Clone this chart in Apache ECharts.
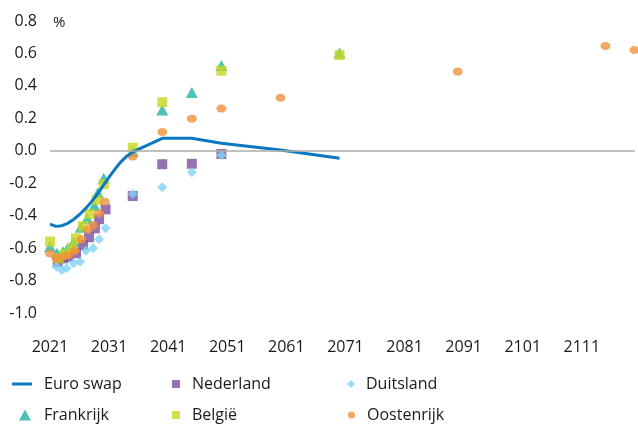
<!DOCTYPE html>
<html><head><meta charset="utf-8">
<script src="https://cdn.jsdelivr.net/npm/echarts@6/dist/echarts.min.js"></script>
<style>html,body{margin:0;padding:0;background:#fff}#c{width:638px;height:425px}</style>
</head><body><div id="c"></div>
<script>
// ---- data ----
const swapYears  = [2021,2022,2023,2024,2025,2026,2027,2028,2029,2030,2031,2032,2033,2034,2035,2040,2045,2050,2060,2070];
const swapValues = [-0.452,-0.466,-0.462,-0.447,-0.423,-0.393,-0.357,-0.315,-0.268,-0.215,-0.163,-0.113,-0.068,-0.033,-0.007,0.077,0.077,0.046,0.005,-0.046];

const nlYears  = [2022.3,2023.2,2024.1,2025.4,2026.6,2027.6,2028.6,2029.3,2030.4,2035,2040,2045,2050];
const nlValues = [-0.686,-0.663,-0.653,-0.632,-0.581,-0.533,-0.478,-0.422,-0.361,-0.279,-0.083,-0.08,-0.02];

const deYears  = [2022.1,2023.0,2023.8,2025.0,2026.1,2027.1,2028.3,2029.3,2030.4,2035,2040,2045,2050];
const deValues = [-0.715,-0.735,-0.724,-0.694,-0.684,-0.616,-0.601,-0.546,-0.478,-0.266,-0.225,-0.133,-0.028];

const frYears  = [2021,2022.2,2023.2,2024,2025,2026.2,2027.3,2028.5,2029.1,2030.1,2035,2040,2045,2050,2070];
const frValues = [-0.59,-0.632,-0.622,-0.60,-0.559,-0.472,-0.416,-0.338,-0.258,-0.17,-0.005,0.252,0.36,0.525,0.603];

const beYears  = [2021,2022.4,2023.5,2024.7,2025.4,2026.6,2027.7,2028.9,2030.1,2035,2040,2050,2070];
const beValues = [-0.56,-0.663,-0.636,-0.601,-0.54,-0.465,-0.39,-0.303,-0.206,0.019,0.299,0.494,0.59];

const atYears  = [2021,2022.1,2023.2,2024.2,2025.2,2026.3,2027.4,2028.3,2029.3,2030.3,2035,2040,2045,2050,2060,2090,2115,2119.9];
const atValues = [-0.632,-0.663,-0.653,-0.642,-0.616,-0.546,-0.488,-0.458,-0.385,-0.314,-0.036,0.116,0.198,0.26,0.327,0.488,0.646,0.621];

const seriesNames = ['Euro swap','Nederland','Duitsland','Frankrijk','België','Oostenrijk'];
const xTickStart = 2021, xTickStep = 10;
const yTicks = [-1.0,-0.8,-0.6,-0.4,-0.2,0.0,0.2,0.4,0.6,0.8];

// ---- build ----
const zip = (xs, ys) => xs.map((x, i) => [x, ys[i]]);
const FONT = '"Open Sans", sans-serif';
const TXT = '#1a1a1a';
const C = {swap:'#0a78c2', nl:'#7b4f9d', de:'#7fd3f7', fr:'#1eb3a6', be:'#c9d61c', at:'#f0923a'};

function legend(name, left, top, icon, w, h, pad) {
  return {
    data: [{name: name, icon: icon}],
    left: left, top: top, padding: 0,
    itemWidth: w, itemHeight: h,
    textStyle: {fontFamily: FONT, fontSize: 16, color: TXT, padding: [0,0,0,pad]},
    selectedMode: false
  };
}

const chart = echarts.init(document.getElementById('c'), null, {renderer: 'canvas'});
chart.setOption({
  animation: false,
  backgroundColor: '#fff',
  grid: {left: 50, top: 21, width: 588, height: 292, containLabel: false},
  xAxis: {
    type: 'value', min: 2021, max: 2120, interval: xTickStep,
    axisLine: {show: false}, axisTick: {show: false}, splitLine: {show: false},
    axisLabel: {
      margin: 26, fontFamily: FONT, fontSize: 16, color: TXT,
      formatter: v => ((Math.round(v) - xTickStart) % xTickStep === 0 ? String(Math.round(v)) : '')
    }
  },
  yAxis: {
    type: 'value', min: yTicks[0], max: yTicks[yTicks.length-1], interval: 0.2,
    axisLine: {show: false}, axisTick: {show: false}, splitLine: {show: false},
    axisLabel: {margin: 13, fontFamily: FONT, fontSize: 16, color: TXT, formatter: v => v.toFixed(1)}
  },
  graphic: [{type: 'text', left: 53, top: 15, style: {text: '%', font: '15px ' + FONT, fill: TXT}}],
  legend: [
    legend(seriesNames[0], 12, 376, 'rect', 20, 3, 7),
    legend(seriesNames[1], 172, 376, 'rect', 8, 8, 7),
    legend(seriesNames[2], 347, 376, 'diamond', 8, 8, 6),
    legend(seriesNames[3], 19, 407, 'triangle', 12, 11, 8),
    legend(seriesNames[4], 172, 407, 'rect', 8, 8, 7),
    legend(seriesNames[5], 348, 407, 'circle', 7, 7, 7)
  ],
  series: [
    {name: seriesNames[0], type: 'line', data: zip(swapYears, swapValues), showSymbol: false, symbol: 'none',
     lineStyle: {color: C.swap, width: 3}, itemStyle: {color: C.swap},
     markLine: {silent: true, symbol: 'none', label: {show: false},
       lineStyle: {color: '#ababab', width: 1.5, type: 'solid'}, data: [{yAxis: 0}]}},
    {name: seriesNames[1], type: 'scatter', symbol: 'rect', symbolSize: 10, data: zip(nlYears, nlValues), itemStyle: {color: C.nl}},
    {name: seriesNames[2], type: 'scatter', symbol: 'diamond', symbolSize: 10, data: zip(deYears, deValues), itemStyle: {color: C.de}},
    {name: seriesNames[3], type: 'scatter', symbol: 'triangle', symbolSize: [12, 11], data: zip(frYears, frValues), itemStyle: {color: C.fr}},
    {name: seriesNames[4], type: 'scatter', symbol: 'rect', symbolSize: 10, data: zip(beYears, beValues), itemStyle: {color: C.be}},
    {name: seriesNames[5], type: 'scatter', symbol: 'circle', symbolSize: [10, 8], data: zip(atYears, atValues), itemStyle: {color: C.at}}
  ]
});
</script>
</body></html>
